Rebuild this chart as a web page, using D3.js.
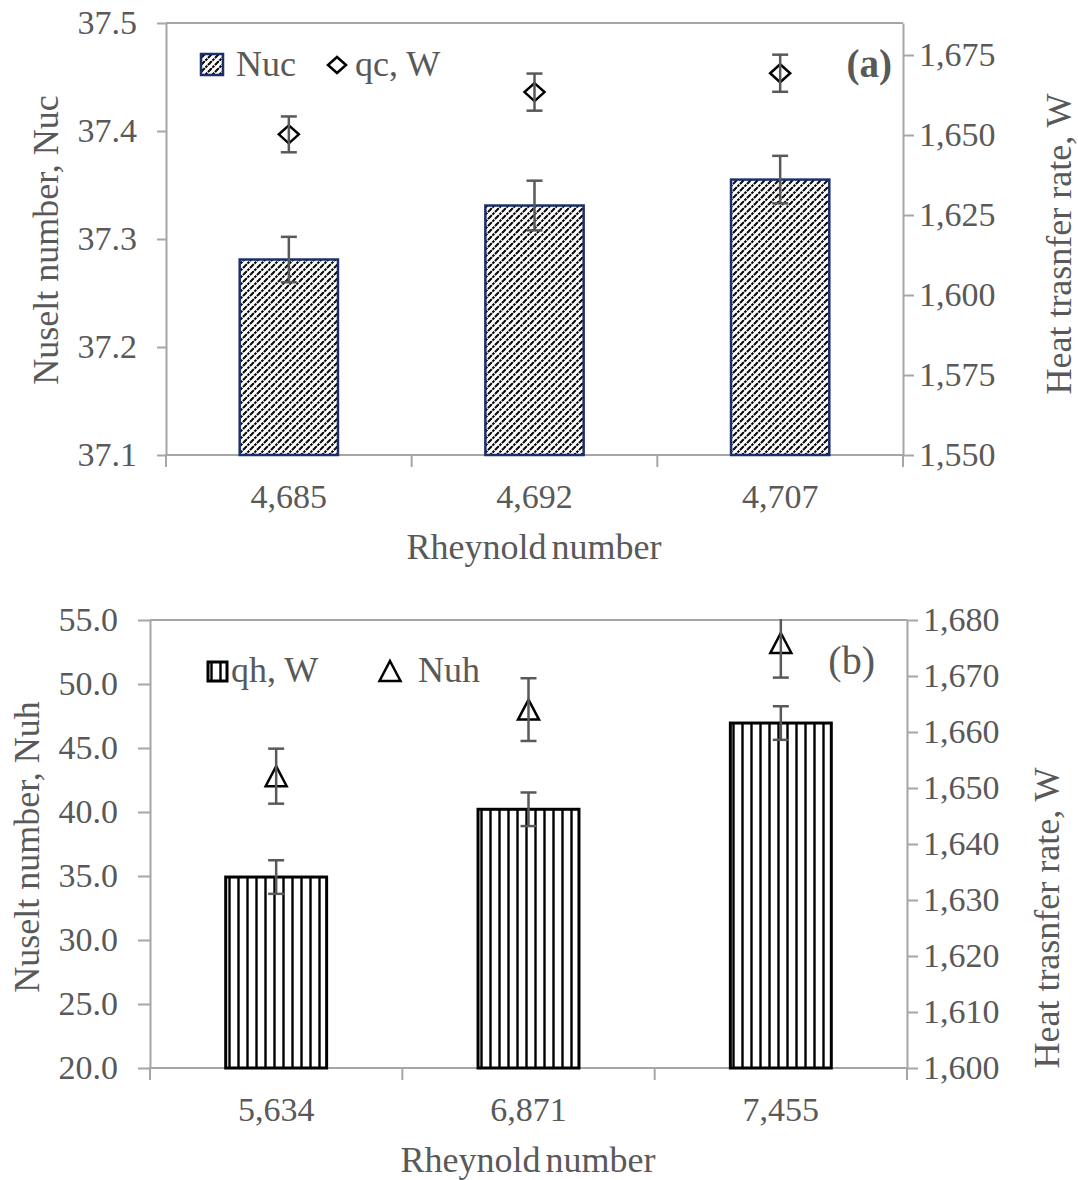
<!DOCTYPE html>
<html>
<head>
<meta charset="utf-8">
<script src="https://cdn.jsdelivr.net/npm/d3@7"></script>
<style>
  body { margin: 0; background: #fff; }
  text { font-family: "Liberation Serif", "Times New Roman", serif; fill: #595959; font-size: 34px; }
  .title { font-size: 36px; }
</style>
</head>
<body>
<div class="canva"></div>
<script>
// panel (a)
const reA = ['4,685', '4,692', '4,707'];
const nucVals = [37.281, 37.331, 37.355];
const nucErr = [0.021, 0.023, 0.022];
const qcVals = [1650.2, 1663.4, 1669.3];
const qcErr = [5.6, 5.8, 5.8];
const nucTicks = [37.1, 37.2, 37.3, 37.4, 37.5];
const qcTicks = [1550, 1575, 1600, 1625, 1650, 1675];

// panel (b)
const reB = ['5,634', '6,871', '7,455'];
const qhVals = [1634.1, 1646.2, 1661.6];
const qhErr = [3.0, 3.0, 3.0];
const nuhVals = [42.8, 48.0, 53.2];
const nuhErr = [2.15, 2.45, 2.7];
const nuhTicks = [20, 25, 30, 35, 40, 45, 50, 55];
const qhTicks = [1600, 1610, 1620, 1630, 1640, 1650, 1660, 1670, 1680];

const axisCol = '#a6a6a6';
const textCol = '#595959';

const svg = d3.select('.canva').append('svg')
  .attr('width', 1078)
  .attr('height', 1180);

const defs = svg.append('defs');

// dashed upward diagonal fill
const diag = defs.append('pattern')
  .attr('id', 'diag')
  .attr('patternUnits', 'userSpaceOnUse')
  .attr('width', 7).attr('height', 7);
diag.append('rect').attr('width', 7).attr('height', 7).attr('fill', '#fff');
diag.append('path')
  .attr('d', 'M0,7 L7,0 M-1,1 L1,-1 M6,8 L8,6')
  .attr('stroke', '#000')
  .attr('stroke-width', 2)
  .attr('stroke-dasharray', '2.6,0.9');

// vertical lines fill
const vert = defs.append('pattern')
  .attr('id', 'vert')
  .attr('patternUnits', 'userSpaceOnUse')
  .attr('width', 9).attr('height', 9);
vert.append('rect').attr('width', 9).attr('height', 9).attr('fill', '#fff');
vert.append('line')
  .attr('x1', 4.5).attr('x2', 4.5).attr('y1', 0).attr('y2', 9)
  .attr('stroke', '#000').attr('stroke-width', 2.4);

function styleAxis(sel) {
  sel.select('.domain').attr('stroke', axisCol).attr('stroke-width', 2);
  sel.selectAll('.tick line').attr('stroke', axisCol).attr('stroke-width', 2);
}

function drawPanel(o) {
  const g = svg.append('g');

  const x = d3.scaleBand().domain(o.cats).range([o.left, o.right]);
  const yL = d3.scaleLinear().domain(o.leftDom).range([o.bottom, o.top]);
  const yR = d3.scaleLinear().domain(o.rightDom).range([o.bottom, o.top]);
  const bw = x.bandwidth();

  // top border
  g.append('line')
    .attr('x1', o.left).attr('x2', o.right)
    .attr('y1', o.top).attr('y2', o.top)
    .attr('stroke', axisCol).attr('stroke-width', 2);

  // left axis
  g.append('g')
    .attr('transform', `translate(${o.left},0)`)
    .call(d3.axisLeft(yL).tickValues(o.leftTicks).tickFormat(d3.format('.1f'))
      .tickSize(o.tick).tickSizeOuter(0).tickPadding(20))
    .call(styleAxis);

  // right axis
  g.append('g')
    .attr('transform', `translate(${o.right},0)`)
    .call(d3.axisRight(yR).tickValues(o.rightTicks).tickFormat(d3.format(','))
      .tickSize(11).tickSizeOuter(0).tickPadding(5))
    .call(styleAxis);

  // bottom axis, ticks between categories like excel
  g.append('line')
    .attr('x1', o.left - 1).attr('x2', o.right + 1)
    .attr('y1', o.bottom).attr('y2', o.bottom)
    .attr('stroke', axisCol).attr('stroke-width', 2);
  const edges = o.cats.map(c => x(c)).concat([x.range()[1]]);
  g.selectAll('.xtick').data(edges).enter().append('line')
    .attr('x1', d => d).attr('x2', d => d)
    .attr('y1', o.bottom).attr('y2', o.bottom + 12)
    .attr('stroke', axisCol).attr('stroke-width', 2);
  g.selectAll('.xlab').data(o.cats).enter().append('text')
    .attr('x', d => x(d) + bw / 2)
    .attr('y', o.bottom + 53)
    .attr('text-anchor', 'middle')
    .text(d => d);

  // bars
  const yBar = o.barsOnLeft ? yL : yR;
  const yMk = o.barsOnLeft ? yR : yL;
  g.selectAll('.bar').data(o.barVals).enter().append('rect')
    .attr('x', (d, i) => x(o.cats[i]) + bw * 0.3)
    .attr('width', bw * 0.4)
    .attr('y', d => yBar(d))
    .attr('height', d => o.bottom - yBar(d))
    .attr('fill', `url(#${o.pattern})`)
    .attr('stroke', o.barStroke)
    .attr('stroke-width', o.barStrokeW);

  const clipId = 'clip' + o.pattern;
  defs.append('clipPath').attr('id', clipId)
    .append('rect')
    .attr('x', o.left).attr('y', o.top - 1)
    .attr('width', o.right - o.left).attr('height', o.bottom - o.top + 1);

  function errBars(vals, errs, y) {
    const eg = g.append('g').attr('clip-path', `url(#${clipId})`)
      .attr('stroke', textCol).attr('stroke-width', 2.5);
    vals.forEach((v, i) => {
      const cx = x(o.cats[i]) + bw / 2;
      const y1 = y(v - errs[i]), y2 = y(v + errs[i]);
      eg.append('line').attr('x1', cx).attr('x2', cx).attr('y1', y1).attr('y2', y2);
      eg.append('line').attr('x1', cx - 8).attr('x2', cx + 8).attr('y1', y1).attr('y2', y1);
      eg.append('line').attr('x1', cx - 8).attr('x2', cx + 8).attr('y1', y2).attr('y2', y2);
    });
  }
  errBars(o.barVals, o.barErr, yBar);

  // markers
  g.selectAll('.mk').data(o.mkVals).enter().append('path')
    .attr('transform', (d, i) => `translate(${x(o.cats[i]) + bw / 2},${yMk(d)})`)
    .attr('d', o.marker)
    .attr('fill', 'none')
    .attr('stroke', '#000')
    .attr('stroke-width', 2.5)
    .attr('stroke-linejoin', 'miter');
  errBars(o.mkVals, o.mkErr, yMk);

  return g;
}

const diamond = 'M0,-9 L10,0 L0,9 L-10,0 Z';
const triangle = 'M0,-10 L10.5,10 L-10.5,10 Z';

const ga = drawPanel({
  cats: reA, left: 166, right: 903, top: 23, bottom: 455, tick: 9,
  leftDom: [37.1, 37.5], rightDom: [1550, 1685],
  leftTicks: nucTicks, rightTicks: qcTicks,
  barsOnLeft: true, barVals: nucVals, barErr: nucErr,
  mkVals: qcVals, mkErr: qcErr, marker: diamond,
  pattern: 'diag', barStroke: '#1b2f6a', barStrokeW: 2.5
});

const gb = drawPanel({
  cats: reB, left: 150, right: 907, top: 620, bottom: 1068, tick: 12,
  leftDom: [20, 55], rightDom: [1600, 1680],
  leftTicks: nuhTicks, rightTicks: qhTicks,
  barsOnLeft: false, barVals: qhVals, barErr: qhErr,
  mkVals: nuhVals, mkErr: nuhErr, marker: triangle,
  pattern: 'vert', barStroke: '#000', barStrokeW: 3
});

// axis titles
svg.append('text').attr('class', 'title').attr('transform', 'translate(58,240) rotate(-90)')
  .attr('text-anchor', 'middle').text('Nuselt number, Nuc');
svg.append('text').attr('class', 'title').attr('transform', 'translate(1071,244) rotate(-90)')
  .attr('text-anchor', 'middle').text('Heat trasnfer rate, W');
svg.append('text').attr('class', 'title').attr('x', 534).attr('y', 559)
  .attr('text-anchor', 'middle').attr('word-spacing', '-4').text('Rheynold number');

svg.append('text').attr('class', 'title').attr('transform', 'translate(39,847) rotate(-90)')
  .attr('text-anchor', 'middle').text('Nuselt number, Nuh');
svg.append('text').attr('class', 'title').attr('transform', 'translate(1059,918) rotate(-90)')
  .attr('text-anchor', 'middle').text('Heat trasnfer rate, W');
svg.append('text').attr('class', 'title').attr('x', 528).attr('y', 1172)
  .attr('text-anchor', 'middle').attr('word-spacing', '-4').text('Rheynold number');

// panel labels
svg.append('text').attr('x', 892).attr('y', 77).attr('text-anchor', 'end')
  .style('font-size', '39px').style('font-weight', 'bold').text('(a)');
svg.append('text').attr('x', 875).attr('y', 674).attr('text-anchor', 'end')
  .style('font-size', '40px').text('(b)');

// legends
const legA = svg.append('g');
legA.append('rect').attr('x', 201).attr('y', 54).attr('width', 22).attr('height', 21)
  .attr('fill', 'url(#diag)').attr('stroke', '#1b2f6a').attr('stroke-width', 2.5);
legA.append('text').attr('class', 'title').attr('x', 236).attr('y', 76).text('Nuc');
legA.append('path').attr('transform', 'translate(337,65)').attr('d', 'M0,-8 L9,0 L0,8 L-9,0 Z')
  .attr('fill', 'none').attr('stroke', '#000').attr('stroke-width', 2.5);
legA.append('text').attr('class', 'title').attr('x', 355).attr('y', 76).text('qc, W');

const legB = svg.append('g');
legB.append('rect').attr('x', 208).attr('y', 662).attr('width', 19).attr('height', 19)
  .attr('fill', 'url(#vert)').attr('stroke', '#000').attr('stroke-width', 3);
legB.append('text').attr('class', 'title').attr('x', 231).attr('y', 682).text('qh, W');
legB.append('path').attr('transform', 'translate(390,671)').attr('d', triangle)
  .attr('fill', 'none').attr('stroke', '#000').attr('stroke-width', 2.5);
legB.append('text').attr('class', 'title').attr('x', 418).attr('y', 682).text('Nuh');
</script>
</body>
</html>
